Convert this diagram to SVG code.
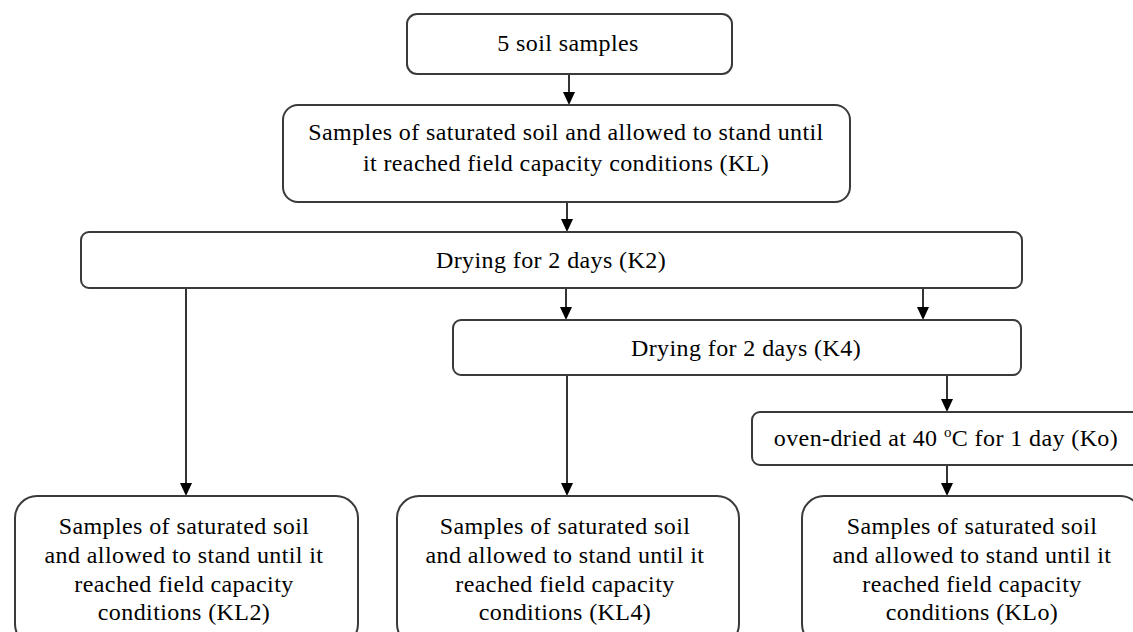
<svg xmlns="http://www.w3.org/2000/svg" width="1133" height="632" viewBox="0 0 1133 632">
  <defs>
    <style>
      .box { fill: #fff; stroke: #3a3a3a; stroke-width: 2; }
      .t { font-family: "Liberation Serif", "Times New Roman", serif; font-size: 24px; letter-spacing: 0.4px; fill: #000; text-anchor: middle; }
      .c { stroke: #000; stroke-width: 1.6; fill: none; }
      .ah { fill: #000; }
    </style>
  </defs>
  <rect width="1133" height="632" fill="#fff"/>

  <g id="connectors">
    <line class="c" x1="569" y1="74" x2="569" y2="92"/>
    <path class="ah" d="M563,92 L575,92 L569,105 z"/>
    <line class="c" x1="567" y1="202" x2="567" y2="219"/>
    <path class="ah" d="M561,219 L573,219 L567,232 z"/>
    <line class="c" x1="566" y1="288" x2="566" y2="307"/>
    <path class="ah" d="M560,307 L572,307 L566,320 z"/>
    <line class="c" x1="923" y1="288" x2="923" y2="307"/>
    <path class="ah" d="M917,307 L929,307 L923,320 z"/>
    <line class="c" x1="186" y1="288" x2="186" y2="483"/>
    <path class="ah" d="M180,483 L192,483 L186,496 z"/>
    <line class="c" x1="567" y1="375" x2="567" y2="483"/>
    <path class="ah" d="M561,483 L573,483 L567,496 z"/>
    <line class="c" x1="947" y1="375" x2="947" y2="399"/>
    <path class="ah" d="M941,399 L953,399 L947,412 z"/>
    <line class="c" x1="947" y1="465" x2="947" y2="483"/>
    <path class="ah" d="M941,483 L953,483 L947,496 z"/>
  </g>

  <g id="n1">
    <rect class="box" x="407" y="14" width="325" height="60" rx="10"/>
    <text class="t" x="568" y="51">5 soil samples</text>
  </g>

  <g id="n2">
    <rect class="box" x="283" y="105" width="567" height="97" rx="15"/>
    <text class="t" x="566" y="140">Samples of saturated soil and allowed to stand until</text>
    <text class="t" x="566" y="171">it reached field capacity conditions (KL)</text>
  </g>

  <g id="n3">
    <rect class="box" x="81" y="232" width="941" height="56" rx="8"/>
    <text class="t" x="551" y="268">Drying for 2 days (K2)</text>
  </g>

  <g id="n4">
    <rect class="box" x="453" y="320" width="568" height="55" rx="8"/>
    <text class="t" x="746" y="356">Drying for 2 days (K4)</text>
  </g>

  <g id="n5">
    <rect class="box" x="752" y="412" width="390" height="53" rx="8"/>
    <text class="t" x="946" y="446">oven-dried at 40 <tspan font-size="15" dy="-9">o</tspan><tspan dy="9">C for 1 day (Ko)</tspan></text>
  </g>

  <g id="n6">
    <rect class="box" x="15" y="496" width="343" height="150" rx="22"/>
    <text class="t" x="184" y="534">Samples of saturated soil</text>
    <text class="t" x="184" y="563">and allowed to stand until it</text>
    <text class="t" x="184" y="592">reached field capacity</text>
    <text class="t" x="184" y="620">conditions (KL2)</text>
  </g>

  <g id="n7">
    <rect class="box" x="397" y="496" width="342" height="150" rx="22"/>
    <text class="t" x="565" y="534">Samples of saturated soil</text>
    <text class="t" x="565" y="563">and allowed to stand until it</text>
    <text class="t" x="565" y="592">reached field capacity</text>
    <text class="t" x="565" y="620">conditions (KL4)</text>
  </g>

  <g id="n8">
    <rect class="box" x="802" y="496" width="340" height="150" rx="22"/>
    <text class="t" x="972" y="534">Samples of saturated soil</text>
    <text class="t" x="972" y="563">and allowed to stand until it</text>
    <text class="t" x="972" y="592">reached field capacity</text>
    <text class="t" x="972" y="620">conditions (KLo)</text>
  </g>
</svg>
